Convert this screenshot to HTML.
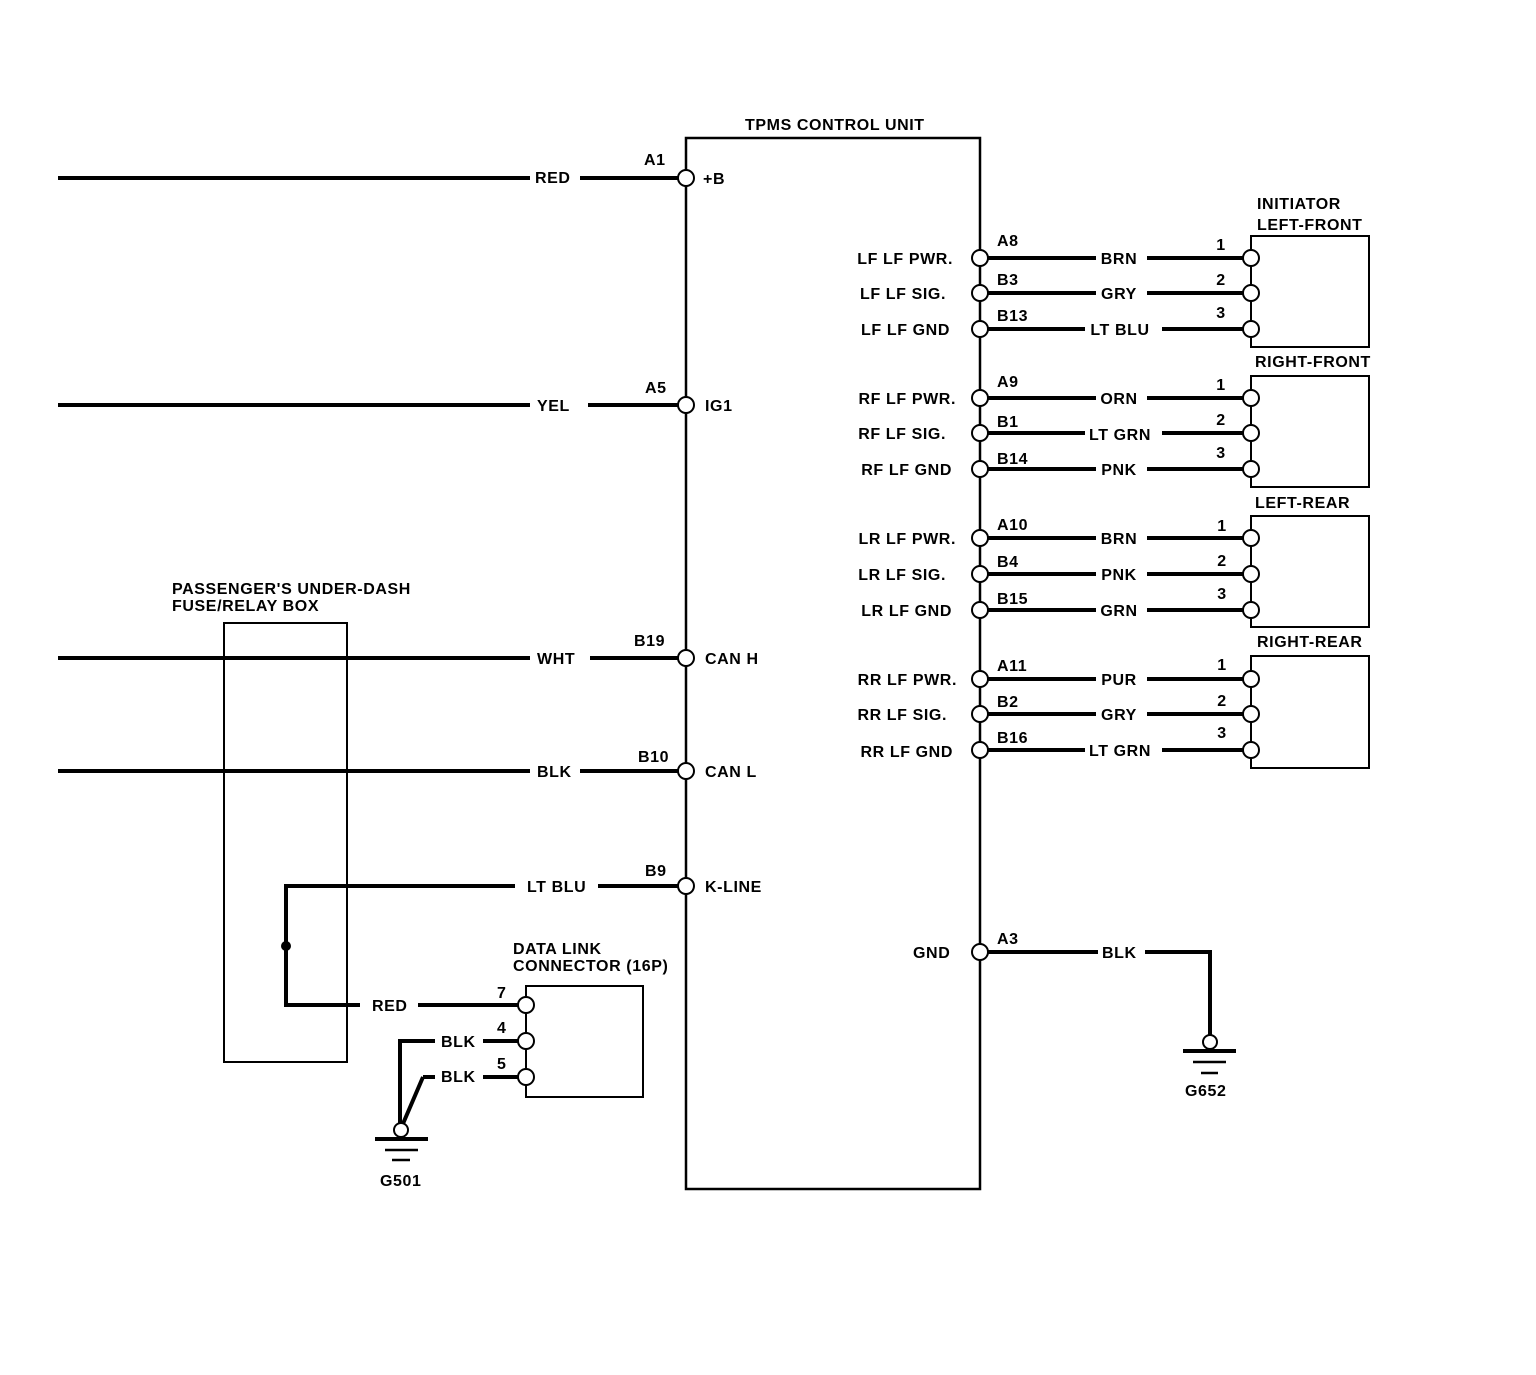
<!DOCTYPE html>
<html><head><meta charset="utf-8"><style>
html,body{margin:0;padding:0;background:#fff;}
svg text{font-family:"Liberation Sans",Arial,sans-serif;font-weight:bold;font-size:16px;letter-spacing:0.6px;fill:#000;}
</style></head><body>
<svg width="1536" height="1370" viewBox="0 0 1536 1370" xmlns="http://www.w3.org/2000/svg">
<rect width="1536" height="1370" fill="#fff"/>
<g stroke="#000" fill="none">
<rect x="686" y="138" width="294" height="1051" stroke-width="2.5"/>
<rect x="224" y="623" width="123" height="439" stroke-width="2"/>
<rect x="526" y="986" width="117" height="111" stroke-width="2"/>
<rect x="1251" y="236" width="118" height="111" stroke-width="2"/>
<rect x="1251" y="376" width="118" height="111" stroke-width="2"/>
<rect x="1251" y="516" width="118" height="111" stroke-width="2"/>
<rect x="1251" y="656" width="118" height="112" stroke-width="2"/>
<g stroke-width="4">
<path d="M58 178H530M580 178H678"/>
<path d="M58 405H530M588 405H678"/>
<path d="M58 658H530M590 658H678"/>
<path d="M58 771H530M580 771H678"/>
<path d="M515 886H286V1005H360M598 886H678M418 1005H518"/>
<path d="M435 1041H400V1128M423 1077L402 1126M423 1077H435M483 1041H518M483 1077H518"/>
<path d="M375 1139H428"/>
<path d="M1183 1051H1236"/>
</g>
<path d="M385 1150H418M392 1160H410M1193 1062H1226M1201 1073H1218" stroke-width="2.5"/>
<g stroke-width="4">
<path d="M988 258H1096M1147 258H1243"/>
<path d="M988 293H1096M1147 293H1243"/>
<path d="M988 329H1085M1162 329H1243"/>
<path d="M988 398H1096M1147 398H1243"/>
<path d="M988 433H1085M1162 433H1243"/>
<path d="M988 469H1096M1147 469H1243"/>
<path d="M988 538H1096M1147 538H1243"/>
<path d="M988 574H1096M1147 574H1243"/>
<path d="M988 610H1096M1147 610H1243"/>
<path d="M988 679H1096M1147 679H1243"/>
<path d="M988 714H1096M1147 714H1243"/>
<path d="M988 750H1085M1162 750H1243"/>
<path d="M988 952H1098M1145 952H1210V1036"/>
</g>
<path d="M526 1005V1077" stroke-width="2"/>
</g>
<circle cx="286" cy="946" r="5" fill="#000"/>
<g fill="#fff" stroke="#000" stroke-width="2">
<circle cx="686" cy="178" r="8"/><circle cx="686" cy="405" r="8"/><circle cx="686" cy="658" r="8"/>
<circle cx="686" cy="771" r="8"/><circle cx="686" cy="886" r="8"/>
<circle cx="526" cy="1005" r="8"/><circle cx="526" cy="1041" r="8"/><circle cx="526" cy="1077" r="8"/>
<circle cx="401" cy="1130" r="7"/><circle cx="1210" cy="1042" r="7"/>
<circle cx="980" cy="258" r="8"/><circle cx="980" cy="293" r="8"/><circle cx="980" cy="329" r="8"/>
<circle cx="980" cy="398" r="8"/><circle cx="980" cy="433" r="8"/><circle cx="980" cy="469" r="8"/>
<circle cx="980" cy="538" r="8"/><circle cx="980" cy="574" r="8"/><circle cx="980" cy="610" r="8"/>
<circle cx="980" cy="679" r="8"/><circle cx="980" cy="714" r="8"/><circle cx="980" cy="750" r="8"/>
<circle cx="980" cy="952" r="8"/>
<circle cx="1251" cy="258" r="8"/><circle cx="1251" cy="293" r="8"/><circle cx="1251" cy="329" r="8"/>
<circle cx="1251" cy="398" r="8"/><circle cx="1251" cy="433" r="8"/><circle cx="1251" cy="469" r="8"/>
<circle cx="1251" cy="538" r="8"/><circle cx="1251" cy="574" r="8"/><circle cx="1251" cy="610" r="8"/>
<circle cx="1251" cy="679" r="8"/><circle cx="1251" cy="714" r="8"/><circle cx="1251" cy="750" r="8"/>
</g>
<text x="745" y="130">TPMS CONTROL UNIT</text>
<text x="535" y="183">RED</text><text x="644" y="165">A1</text><text x="703" y="184">+B</text>
<text x="537" y="411">YEL</text><text x="645" y="393">A5</text><text x="705" y="411">IG1</text>
<text x="537" y="664">WHT</text><text x="634" y="646">B19</text><text x="705" y="664">CAN H</text>
<text x="537" y="777">BLK</text><text x="638" y="762">B10</text><text x="705" y="777">CAN L</text>
<text x="527" y="892">LT BLU</text><text x="645" y="876">B9</text><text x="705" y="892">K-LINE</text>
<text x="172" y="594">PASSENGER'S UNDER-DASH</text><text x="172" y="611">FUSE/RELAY BOX</text>
<text x="513" y="954">DATA LINK</text><text x="513" y="971">CONNECTOR (16P)</text>
<text x="372" y="1011">RED</text><text x="441" y="1047">BLK</text><text x="441" y="1082">BLK</text>
<text x="497" y="998">7</text><text x="497" y="1033">4</text><text x="497" y="1069">5</text>
<text x="380" y="1186">G501</text><text x="1185" y="1096">G652</text>
<text x="913" y="958">GND</text><text x="997" y="944">A3</text><text x="1102" y="958">BLK</text>
<text x="1257" y="209">INITIATOR</text><text x="1257" y="230">LEFT-FRONT</text>
<text x="1255" y="367">RIGHT-FRONT</text><text x="1255" y="508">LEFT-REAR</text><text x="1257" y="647">RIGHT-REAR</text>
<g text-anchor="end">
<text x="953" y="264">LF LF PWR.</text><text x="946" y="299">LF LF SIG.</text><text x="950" y="335">LF LF GND</text>
<text x="956" y="404">RF LF PWR.</text><text x="946" y="439">RF LF SIG.</text><text x="952" y="475">RF LF GND</text>
<text x="956" y="544">LR LF PWR.</text><text x="946" y="580">LR LF SIG.</text><text x="952" y="616">LR LF GND</text>
<text x="957" y="685">RR LF PWR.</text><text x="947" y="720">RR LF SIG.</text><text x="953" y="757">RR LF GND</text>
</g>
<g>
<text x="997" y="246">A8</text><text x="997" y="285">B3</text><text x="997" y="321">B13</text>
<text x="997" y="387">A9</text><text x="997" y="427">B1</text><text x="997" y="464">B14</text>
<text x="997" y="530">A10</text><text x="997" y="567">B4</text><text x="997" y="604">B15</text>
<text x="997" y="671">A11</text><text x="997" y="707">B2</text><text x="997" y="743">B16</text>
</g>
<g text-anchor="middle">
<text x="1119" y="264">BRN</text><text x="1119" y="299">GRY</text><text x="1120" y="335">LT BLU</text>
<text x="1119" y="404">ORN</text><text x="1120" y="440">LT GRN</text><text x="1119" y="475">PNK</text>
<text x="1119" y="544">BRN</text><text x="1119" y="580">PNK</text><text x="1119" y="616">GRN</text>
<text x="1119" y="685">PUR</text><text x="1119" y="720">GRY</text><text x="1120" y="756">LT GRN</text>
<text x="1221" y="250">1</text><text x="1221" y="285">2</text><text x="1221" y="318">3</text>
<text x="1221" y="390">1</text><text x="1221" y="425">2</text><text x="1221" y="458">3</text>
<text x="1222" y="531">1</text><text x="1222" y="566">2</text><text x="1222" y="599">3</text>
<text x="1222" y="670">1</text><text x="1222" y="706">2</text><text x="1222" y="738">3</text>
</g>
</svg>
</body></html>
